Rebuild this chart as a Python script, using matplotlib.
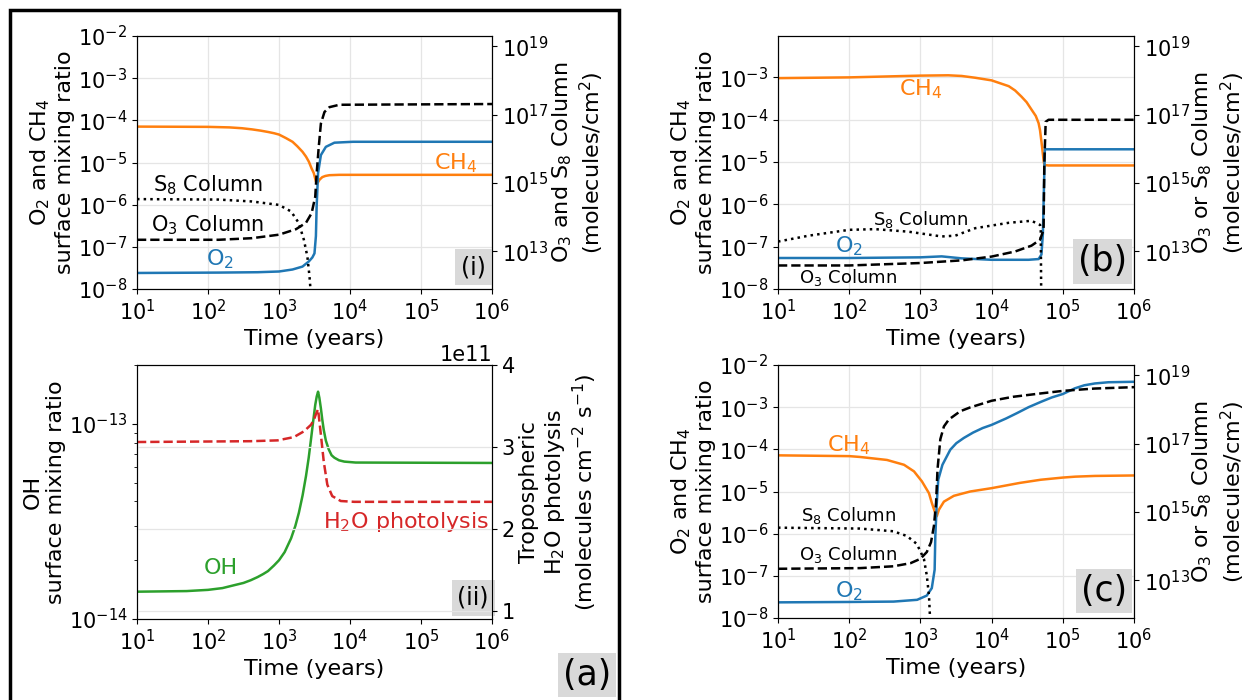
import matplotlib
matplotlib.use("Agg")
import matplotlib.pyplot as plt
from matplotlib.ticker import NullLocator, NullFormatter, FixedLocator
from matplotlib.patches import Rectangle

# ---------------- data ----------------
# Panel (i)
t_i_ch4 = [10, 100, 200, 300, 417, 550, 700, 850, 1000, 1250, 1550, 1800, 2140, 2400, 2630, 2880, 3090, 3310, 3470, 3720, 4070, 4500, 5130, 7080, 1e6]
ch4_i = [7.1e-5, 7.0e-5, 6.8e-5, 6.5e-5, 6.1e-5, 5.7e-5, 5.3e-5, 4.95e-5, 4.6e-5, 3.8e-5, 3.1e-5, 2.45e-5, 1.8e-5, 1.38e-5, 1.05e-5, 7.2e-6, 5.6e-6, 3.55e-6, 3.2e-6, 3.9e-6, 4.5e-6, 4.8e-6, 5.0e-6, 5.1e-6, 5.1e-6]
t_i_o2 = [10, 141, 500, 1000, 1550, 2140, 2630, 2950, 3160, 3310, 3390, 3550, 3890, 4570, 6030, 11000, 1e6]
o2_i = [2.4e-8, 2.45e-8, 2.5e-8, 2.6e-8, 2.9e-8, 3.4e-8, 4.5e-8, 5.6e-8, 7.0e-8, 1.8e-7, 9.1e-7, 5.6e-6, 1.5e-5, 2.35e-5, 2.95e-5, 3.1e-5, 3.1e-5]
t_i_o3 = [10, 141, 417, 1000, 1740, 2400, 2880, 3240, 3390, 3630, 3890, 4370, 5130, 7080, 1e6]
o3_i = [2.2e13, 2.2e13, 2.45e13, 3.1e13, 4.5e13, 6.9e13, 1.32e14, 4.0e14, 1.9e15, 1.15e16, 5.5e16, 1.2e17, 1.66e17, 1.95e17, 2.05e17]
t_i_s8 = [10, 141, 417, 1000, 1480, 1900, 2240, 2510, 2690, 2820]
s8_i = [3.4e14, 3.3e14, 2.9e14, 2.3e14, 1.48e14, 6.8e13, 2.2e13, 7.1e12, 1.86e12, 5e11]

# Panel (ii)
t_ii_oh = [10, 50, 100, 160, 234, 316, 400, 500, 600, 700, 850, 1000, 1200, 1480, 1700, 1905, 2150, 2400, 2620, 2820, 3040, 3240, 3400, 3550, 3700, 3890, 4070, 4270, 4570, 5010, 5500, 6030, 7000, 8320, 12000, 1e6]
oh_ii = [1.38e-14, 1.39e-14, 1.41e-14, 1.44e-14, 1.49e-14, 1.53e-14, 1.58e-14, 1.64e-14, 1.70e-14, 1.76e-14, 1.88e-14, 2.0e-14, 2.2e-14, 2.59e-14, 3.0e-14, 3.5e-14, 4.3e-14, 5.4e-14, 6.7e-14, 8.3e-14, 1.04e-13, 1.25e-13, 1.38e-13, 1.46e-13, 1.36e-13, 1.2e-13, 1.05e-13, 9.3e-14, 8.2e-14, 7.4e-14, 6.9e-14, 6.7e-14, 6.5e-14, 6.4e-14, 6.33e-14, 6.3e-14]
t_ii_h2o = [10, 398, 955, 1620, 2240, 2820, 3100, 3310, 3550, 3890, 4270, 4790, 5620, 7410, 11500, 1e6]
h2o_ii = [3.06e11, 3.07e11, 3.08e11, 3.12e11, 3.19e11, 3.27e11, 3.33e11, 3.40e11, 3.46e11, 3.15e11, 2.82e11, 2.54e11, 2.40e11, 2.34e11, 2.33e11, 2.33e11]

# Panel (b)
t_b_ch4 = [10, 100, 1000, 2460, 3800, 5890, 1e4, 1.74e4, 2.14e4, 2.63e4, 3.1e4, 3.63e4, 4.17e4, 4.57e4, 4.79e4, 5.13e4, 5.37e4, 5.50e4, 6.31e4, 1e6]
ch4_b = [9.6e-4, 1.0e-3, 1.1e-3, 1.12e-3, 1.08e-3, 9.8e-4, 8.5e-4, 6.2e-4, 4.9e-4, 3.5e-4, 2.6e-4, 1.74e-4, 1.23e-4, 8.3e-5, 5.6e-5, 2.2e-5, 1.1e-5, 8.5e-6, 8.3e-6, 8.3e-6]
t_b_o2 = [10, 100, 1000, 1990, 3800, 1e4, 3.31e4, 4.57e4, 5.01e4, 5.25e4, 5.45e4, 5.6e4, 1e6]
o2_b = [5.4e-8, 5.4e-8, 5.6e-8, 5.9e-8, 5.3e-8, 4.9e-8, 4.9e-8, 5.1e-8, 6.5e-8, 2e-7, 3e-6, 2.0e-5, 2.0e-5]
t_b_o3 = [10, 100, 1000, 3800, 1e4, 2.14e4, 3.63e4, 4.79e4, 5.37e4, 5.50e4, 5.75e4, 6.31e4, 1e6]
o3_b = [3.9e12, 3.9e12, 4.6e12, 5.5e12, 7.1e12, 1.0e13, 1.48e13, 2.2e13, 4.3e13, 3.7e15, 6.2e16, 7.1e16, 7.1e16]
t_b_s8 = [10, 27, 100, 232, 676, 1990, 3090, 5890, 1.74e4, 3.63e4, 4.79e4, 4.9e4, 5.0e4]
s8_b = [1.95e13, 2.9e13, 4.3e13, 4.5e13, 3.8e13, 2.75e13, 2.9e13, 4.8e13, 6.9e13, 7.9e13, 6.0e13, 4.5e13, 1e11]

# Panel (c)
t_c_ch4 = [10, 100, 141, 339, 589, 813, 1050, 1320, 1445, 1585, 1700, 1820, 2140, 2950, 5010, 1e4, 2.5e4, 4.9e4, 1e5, 1.5e5, 2.82e5, 1e6]
ch4_c = [7.2e-5, 6.9e-5, 6.6e-5, 5.6e-5, 4.3e-5, 3.0e-5, 1.74e-5, 9.1e-6, 5.4e-6, 3.4e-6, 2.6e-6, 3.7e-6, 5.75e-6, 7.9e-6, 1.0e-5, 1.2e-5, 1.6e-5, 1.9e-5, 2.14e-5, 2.25e-5, 2.34e-5, 2.4e-5]
t_c_o2 = [10, 100, 420, 900, 1230, 1445, 1585, 1620, 1700, 1780, 2040, 2630, 3200, 4070, 5500, 7500, 1e4, 1.6e4, 2.3e4, 3.31e4, 5e4, 7e4, 1e5, 1.48e5, 2e5, 2.82e5, 4.37e5, 1e6]
o2_c = [2.35e-8, 2.4e-8, 2.45e-8, 2.7e-8, 3.4e-8, 5.1e-8, 1.4e-7, 8.7e-7, 5.4e-6, 1.9e-5, 4.3e-5, 9.8e-5, 1.4e-4, 1.86e-4, 2.5e-4, 3.2e-4, 3.8e-4, 5.4e-4, 7.3e-4, 1.0e-3, 1.35e-3, 1.7e-3, 2.05e-3, 2.8e-3, 3.3e-3, 3.65e-3, 3.9e-3, 4.0e-3]
t_c_o3 = [10, 141, 417, 724, 1000, 1230, 1410, 1550, 1660, 1740, 1905, 2140, 2510, 3630, 5000, 1e4, 2e4, 4.9e4, 1e5, 2e5, 2.82e5, 1e6]
o3_c = [2.2e13, 2.3e13, 2.6e13, 3.2e13, 4.3e13, 6.8e13, 1.32e14, 4.0e14, 1.9e15, 1.8e16, 1.35e17, 3.2e17, 5.1e17, 8.9e17, 1.15e18, 1.8e18, 2.35e18, 2.95e18, 3.5e18, 3.9e18, 4.1e18, 4.5e18]
t_c_s8 = [10, 141, 417, 646, 891, 1120, 1230, 1320, 1380]
s8_c = [3.5e14, 3.3e14, 2.75e14, 2.0e14, 1.17e14, 4.3e13, 1.4e13, 3.6e12, 5e11]

x_ticks = [1e1, 1e2, 1e3, 1e4, 1e5, 1e6]
left_ticks = [1e-8, 1e-7, 1e-6, 1e-5, 1e-4, 1e-3, 1e-2]
right_ticks = [1e13, 1e15, 1e17, 1e19]
h2o_ticks = [1e11, 2e11, 3e11, 4e11]

# ---------------- style ----------------
C_BLUE = '#1f77b4'
C_ORANGE = '#ff7f0e'
C_GREEN = '#2ca02c'
C_RED = '#d62728'
GRID = '#e5e5e5'
LW = 1.8
TICK_FS = 15
LAB_FS = 16

plt.rcParams['font.family'] = ['DejaVu Sans']
plt.rcParams['font.size'] = TICK_FS

fig = plt.figure(figsize=(12.45, 7.0), dpi=100)

W, H = 1245.0, 700.0
def rect(x0, x1, ytop, ybot):
    return [x0 / W, 1 - ybot / H, (x1 - x0) / W, (ybot - ytop) / H]

ax_i = fig.add_axes(rect(137, 492, 36, 289))
ax_ii = fig.add_axes(rect(137, 492, 365, 619))
ax_b = fig.add_axes(rect(778, 1134, 36, 289))
ax_c = fig.add_axes(rect(778, 1134, 365, 618))


def setup_x(ax):
    ax.set_xscale('log')
    ax.set_xlim(10, 1e6)
    ax.xaxis.set_major_locator(FixedLocator(x_ticks))
    ax.xaxis.set_minor_locator(NullLocator())
    ax.set_xlabel('Time (years)', fontsize=LAB_FS)
    ax.tick_params(labelsize=TICK_FS)


def chem_panel(ax, t_ch4, ch4, t_o2, o2, t_o3, o3, t_s8, s8, ytop, right_label, rpad):
    setup_x(ax)
    ax.set_yscale('log')
    ax.set_ylim(1e-8, ytop)
    ax.yaxis.set_major_locator(FixedLocator(left_ticks))
    ax.yaxis.set_minor_locator(NullLocator())
    ax.grid(True, color=GRID, lw=0.9)
    ax.set_axisbelow(True)
    ax.plot(t_ch4, ch4, color=C_ORANGE, lw=LW)
    ax.plot(t_o2, o2, color=C_BLUE, lw=LW)
    ax.set_ylabel('O$_2$ and CH$_4$\nsurface mixing ratio', fontsize=LAB_FS, labelpad=2)
    ax2 = ax.twinx()
    ax2.set_yscale('log')
    ax2.set_ylim(8e11, 2e19)
    ax2.yaxis.set_major_locator(FixedLocator(right_ticks))
    ax2.yaxis.set_minor_locator(NullLocator())
    ax2.plot(t_o3, o3, color='black', lw=LW, ls='--')
    ax2.plot(t_s8, s8, color='black', lw=LW, ls=':')
    ax2.set_xlim(10, 1e6)
    ax2.tick_params(labelsize=TICK_FS)
    ax2.set_ylabel(right_label, fontsize=LAB_FS, labelpad=rpad)
    return ax2


box = dict(boxstyle='square,pad=0.25', fc='#d9d9d9', ec='none')
bigbox = dict(boxstyle='square,pad=0.15', fc='#d9d9d9', ec='none')

# Panel (i)
chem_panel(ax_i, t_i_ch4, ch4_i, t_i_o2, o2_i, t_i_o3, o3_i, t_i_s8, s8_i, 1e-2,
           'O$_3$ and S$_8$ Column\n(molecules/cm$^2$)', 1.5)
ax_i.text(0.897, 0.497, 'CH$_4$', color=C_ORANGE, fontsize=16, ha='center', va='center', transform=ax_i.transAxes)
ax_i.text(0.234, 0.116, 'O$_2$', color=C_BLUE, fontsize=16, ha='center', va='center', transform=ax_i.transAxes)
ax_i.text(0.199, 0.412, 'S$_8$ Column', color='black', fontsize=15, ha='center', va='center', transform=ax_i.transAxes)
ax_i.text(0.199, 0.254, 'O$_3$ Column', color='black', fontsize=15, ha='center', va='center', transform=ax_i.transAxes)
ax_i.text(0.948, 0.086, '(i)', fontsize=17, ha='center', va='center', transform=ax_i.transAxes, bbox=box)

# Panel (ii)
setup_x(ax_ii)
ax_ii.set_yscale('log')
ax_ii.set_ylim(1e-14, 2e-13)
ax_ii.yaxis.set_minor_formatter(NullFormatter())
ax_ii.plot(t_ii_oh, oh_ii, color=C_GREEN, lw=LW)
ax_ii.set_ylabel('OH\nsurface mixing ratio', fontsize=LAB_FS, labelpad=2)
ax_ii2 = ax_ii.twinx()
ax_ii2.set_ylim(0.9e11, 4.0e11)
ax_ii2.yaxis.set_major_locator(FixedLocator(h2o_ticks))
ax_ii2.grid(True, axis='y', color=GRID, lw=0.9)
ax_ii2.plot(t_ii_h2o, h2o_ii, color=C_RED, lw=LW, ls='--')
ax_ii2.set_xlim(10, 1e6)
ax_ii2.tick_params(labelsize=TICK_FS)
ax_ii2.yaxis.get_offset_text().set_fontsize(TICK_FS)
ax_ii2.set_ylabel('Tropospheric\nH$_2$O photolysis\n(molecules cm$^{-2}$ s$^{-1}$)', fontsize=LAB_FS, labelpad=3)
ax_ii.text(0.236, 0.20, 'OH', color=C_GREEN, fontsize=16, ha='center', va='center', transform=ax_ii.transAxes)
ax_ii.text(0.99, 0.383, 'H$_2$O photolysis', color=C_RED, fontsize=16, ha='right', va='center', transform=ax_ii.transAxes)
ax_ii.text(0.947, 0.084, '(ii)', fontsize=17, ha='center', va='center', transform=ax_ii.transAxes, bbox=box)

# Panel (b)
chem_panel(ax_b, t_b_ch4, ch4_b, t_b_o2, o2_b, t_b_o3, o3_b, t_b_s8, s8_b, 9.5e-3,
           'O$_3$ or S$_8$ Column\n(molecules/cm$^2$)', 0.5)
ax_b.text(0.40, 0.79, 'CH$_4$', color=C_ORANGE, fontsize=16, ha='center', va='center', transform=ax_b.transAxes)
ax_b.text(0.198, 0.168, 'O$_2$', color=C_BLUE, fontsize=16, ha='center', va='center', transform=ax_b.transAxes)
ax_b.text(0.40, 0.273, 'S$_8$ Column', color='black', fontsize=13, ha='center', va='center', transform=ax_b.transAxes)
ax_b.text(0.198, 0.047, 'O$_3$ Column', color='black', fontsize=13, ha='center', va='center', transform=ax_b.transAxes)
ax_b.text(0.912, 0.109, '(b)', fontsize=25, ha='center', va='center', transform=ax_b.transAxes, bbox=bigbox)

# Panel (c)
chem_panel(ax_c, t_c_ch4, ch4_c, t_c_o2, o2_c, t_c_o3, o3_c, t_c_s8, s8_c, 1e-2,
           'O$_3$ or S$_8$ Column\n(molecules/cm$^2$)', 0.5)
ax_c.text(0.198, 0.684, 'CH$_4$', color=C_ORANGE, fontsize=16, ha='center', va='center', transform=ax_c.transAxes)
ax_c.text(0.198, 0.105, 'O$_2$', color=C_BLUE, fontsize=16, ha='center', va='center', transform=ax_c.transAxes)
ax_c.text(0.198, 0.404, 'S$_8$ Column', color='black', fontsize=13, ha='center', va='center', transform=ax_c.transAxes)
ax_c.text(0.198, 0.25, 'O$_3$ Column', color='black', fontsize=13, ha='center', va='center', transform=ax_c.transAxes)
ax_c.text(0.916, 0.107, '(c)', fontsize=25, ha='center', va='center', transform=ax_c.transAxes, bbox=bigbox)

# Frame around (a) and its label
fig.patches.append(Rectangle((10 / W, -0.05), (619 - 10) / W, (1 - 10 / H) + 0.05,
                             transform=fig.transFigure, fill=False, ec='black', lw=2.5))
fig.text(587 / W, 1 - 675 / H, '(a)', fontsize=25, ha='center', va='center', bbox=bigbox)

fig.savefig('out.png', dpi=100)
